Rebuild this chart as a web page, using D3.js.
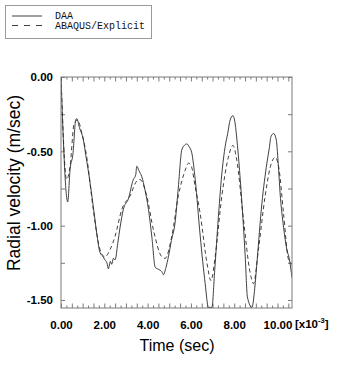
<!DOCTYPE html>
<html>
<head>
<meta charset="utf-8">
<script src="https://cdn.jsdelivr.net/npm/d3@7"></script>
<style>
  body { margin: 0; background: #ffffff; }
  svg { display: block; }
</style>
</head>
<body>
<div class="chart"></div>
<script>
// Time in units of 1e-3 sec, radial velocity in m/sec.
const daaTime = [0, 0.31, 0.42, 0.55, 0.68, 0.73, 0.85, 1.03, 1.15, 1.26, 1.49, 1.65, 1.80, 1.95, 2.03, 2.12, 2.19, 2.28, 2.34, 2.42, 2.50, 2.62, 2.73, 2.88, 3.11, 3.34, 3.45, 3.50, 3.60, 3.73, 3.88, 4.04, 4.20, 4.35, 4.45, 4.58, 4.66, 4.73, 4.85, 4.96, 5.10, 5.27, 5.42, 5.58, 5.70, 5.81, 5.92, 6.04, 6.20, 6.43, 6.66, 6.81, 6.97, 7.10, 7.27, 7.45, 7.58, 7.70, 7.81, 7.94, 8.04, 8.15, 8.28, 8.51, 8.61, 8.82, 8.95, 9.05, 9.28, 9.51, 9.62, 9.70, 9.82, 9.94, 10.05, 10.12, 10.28, 10.43, 10.54, 10.67];
const daaVel = [0, -0.84, -0.62, -0.52, -0.29, -0.28, -0.34, -0.42, -0.53, -0.63, -0.87, -1.05, -1.18, -1.21, -1.23, -1.25, -1.29, -1.24, -1.26, -1.22, -1.23, -1.12, -1.01, -0.89, -0.82, -0.69, -0.66, -0.60, -0.63, -0.67, -0.76, -0.89, -1.08, -1.28, -1.29, -1.30, -1.31, -1.33, -1.28, -1.21, -1.10, -0.98, -0.74, -0.49, -0.46, -0.45, -0.47, -0.51, -0.69, -1.07, -1.39, -1.55, -1.55, -1.30, -0.94, -0.62, -0.47, -0.38, -0.29, -0.26, -0.31, -0.46, -0.69, -1.21, -1.48, -1.55, -1.42, -1.25, -0.85, -0.58, -0.48, -0.40, -0.38, -0.42, -0.62, -0.78, -1.01, -1.16, -1.22, -1.35];

const abaqusTime = [0, 0.26, 0.42, 0.61, 0.77, 0.95, 1.19, 1.49, 1.80, 2.03, 2.27, 2.50, 2.81, 3.19, 3.50, 3.65, 3.96, 4.27, 4.66, 4.81, 5.12, 5.42, 5.73, 5.89, 6.02, 6.20, 6.43, 6.74, 6.93, 7.12, 7.43, 7.73, 7.94, 8.12, 8.43, 8.74, 8.89, 9.12, 9.43, 9.66, 9.89, 10.05, 10.28, 10.51, 10.60, 10.67];
const abaqusVel = [0, -0.69, -0.60, -0.31, -0.29, -0.37, -0.54, -0.89, -1.16, -1.21, -1.16, -1.07, -0.89, -0.80, -0.70, -0.69, -0.80, -1.03, -1.21, -1.22, -1.07, -0.80, -0.63, -0.58, -0.60, -0.74, -0.92, -1.25, -1.37, -1.21, -0.80, -0.54, -0.46, -0.56, -0.96, -1.32, -1.39, -1.16, -0.80, -0.61, -0.54, -0.60, -0.92, -1.23, -1.25, -1.26];

const seriesNames = ["DAA", "ABAQUS/Explicit"];
const xLabelTicks = [0, 2, 4, 6, 8, 10];
const yLabelTicks = [0, -0.5, -1.0, -1.5];

const width = 349, height = 383;
const plotLeft = 61, plotRight = 292, plotTop = 77, plotBottom = 308;
const frameColor = "#7a7a7a";
const lineColor = "#2a2a2a";

const svg = d3.select(".chart")
  .append("svg")
  .attr("width", width)
  .attr("height", height)
  .attr("viewBox", [0, 0, width, height]);

svg.append("rect")
  .attr("width", width)
  .attr("height", height)
  .attr("fill", "#ffffff");

const x = d3.scaleLinear().domain([0, 10.67]).range([plotLeft, plotRight]);
const y = d3.scaleLinear().domain([-1.554, 0]).range([plotBottom, plotTop]);

// Minor and major ticks, all pointing inside the frame.
const minorX = d3.range(0, 10.67, 0.25).filter(v => Math.round(v * 4) % 2 === 1);
const majorX = d3.range(0, 10.67, 0.5);
const yTicks = d3.range(0, -1.56, -0.25);

function styleAxis(g) {
  g.select(".domain").remove();
  g.selectAll(".tick line").attr("stroke", frameColor).attr("stroke-width", 1);
}

svg.append("g")
  .attr("transform", `translate(0,${plotBottom})`)
  .call(d3.axisBottom(x).tickValues(minorX).tickSize(-2.5).tickFormat(""))
  .call(styleAxis);
svg.append("g")
  .attr("transform", `translate(0,${plotBottom})`)
  .call(d3.axisBottom(x).tickValues(majorX).tickSize(-4.5).tickFormat(""))
  .call(styleAxis);
svg.append("g")
  .attr("transform", `translate(0,${plotTop})`)
  .call(d3.axisTop(x).tickValues(minorX).tickSize(-2.5).tickFormat(""))
  .call(styleAxis);
svg.append("g")
  .attr("transform", `translate(0,${plotTop})`)
  .call(d3.axisTop(x).tickValues(majorX).tickSize(-4.5).tickFormat(""))
  .call(styleAxis);
svg.append("g")
  .attr("transform", `translate(${plotLeft},0)`)
  .call(d3.axisLeft(y).tickValues(yTicks).tickSize(-4).tickFormat(""))
  .call(styleAxis);
svg.append("g")
  .attr("transform", `translate(${plotRight},0)`)
  .call(d3.axisRight(y).tickValues(yTicks).tickSize(-4).tickFormat(""))
  .call(styleAxis);

// Tick labels.
const labelFont = "'Liberation Sans', Arial, Helvetica, sans-serif";
const xLabels = svg.append("g")
  .attr("transform", `translate(0,${plotBottom})`)
  .call(d3.axisBottom(x).tickValues(xLabelTicks).tickSize(0).tickPadding(13).tickFormat(d => d.toFixed(2)));
xLabels.select(".domain").remove();
xLabels.selectAll("text")
  .attr("font-family", labelFont)
  .attr("font-size", "11.5px")
  .attr("font-weight", "bold")
  .attr("fill", "#000000");

const yLabels = svg.append("g")
  .attr("transform", `translate(${plotLeft},0)`)
  .call(d3.axisLeft(y).tickValues(yLabelTicks).tickSize(0).tickPadding(8).tickFormat(d => d.toFixed(2)));
yLabels.select(".domain").remove();
yLabels.selectAll("text")
  .attr("font-family", labelFont)
  .attr("font-size", "11.5px")
  .attr("font-weight", "bold")
  .attr("fill", "#000000");

// Exponent note right of the last label.
const expo = svg.append("text")
  .attr("x", 295)
  .attr("y", 328)
  .attr("font-family", labelFont)
  .attr("font-size", "11.5px")
  .attr("font-weight", "bold")
  .attr("fill", "#000000");
expo.append("tspan").text("[x10");
expo.append("tspan").attr("dy", -5).attr("font-size", "7.5px").text("-3");
expo.append("tspan").attr("dy", 5).text("]");

// Axis titles.
svg.append("text")
  .attr("x", (plotLeft + plotRight) / 2 + 0.5)
  .attr("y", 351)
  .attr("text-anchor", "middle")
  .attr("font-family", labelFont)
  .attr("font-size", "16px")
  .attr("fill", "#000000")
  .text("Time (sec)");
svg.append("text")
  .attr("transform", "translate(20,183) rotate(-90)")
  .attr("text-anchor", "middle")
  .attr("font-family", labelFont)
  .attr("font-size", "17.5px")
  .attr("fill", "#000000")
  .text("Radial velocity (m/sec)");

// Curves, clipped to the frame.
svg.append("clipPath")
  .attr("id", "plotClip")
  .append("rect")
  .attr("x", plotLeft).attr("y", plotTop)
  .attr("width", plotRight - plotLeft).attr("height", plotBottom - plotTop);

const line = d3.line()
  .x(d => x(d[0]))
  .y(d => y(d[1]))
  .curve(d3.curveMonotoneX);
const daaPoints = daaTime.map((t, i) => [t, daaVel[i]]);
const abaqusPoints = abaqusTime.map((t, i) => [t, abaqusVel[i]]);

svg.append("path")
  .datum(abaqusPoints)
  .attr("clip-path", "url(#plotClip)")
  .attr("fill", "none")
  .attr("stroke", lineColor)
  .attr("stroke-width", 0.9)
  .attr("stroke-dasharray", "4,3")
  .attr("d", line);
svg.append("path")
  .datum(daaPoints)
  .attr("clip-path", "url(#plotClip)")
  .attr("fill", "none")
  .attr("stroke", lineColor)
  .attr("stroke-width", 0.9)
  .attr("d", line);

// Frame.
svg.append("rect")
  .attr("x", plotLeft).attr("y", plotTop)
  .attr("width", plotRight - plotLeft).attr("height", plotBottom - plotTop)
  .attr("fill", "none")
  .attr("stroke", frameColor)
  .attr("stroke-width", 1);

// Legend box at the top left.
const legend = svg.append("g");
legend.append("rect")
  .attr("x", 5.5).attr("y", 5.5)
  .attr("width", 146).attr("height", 33)
  .attr("fill", "none")
  .attr("stroke", "#9a9a9a")
  .attr("stroke-width", 1);
seriesNames.forEach((name, i) => {
  const ly = 16 + i * 9.5;
  legend.append("line")
    .attr("x1", 12).attr("x2", 42)
    .attr("y1", ly).attr("y2", ly)
    .attr("stroke", lineColor)
    .attr("stroke-width", 0.9)
    .attr("stroke-dasharray", i === 0 ? null : "6,6");
  legend.append("text")
    .attr("x", 55)
    .attr("y", ly + 3.3)
    .attr("font-family", "'Liberation Mono', 'DejaVu Sans Mono', monospace")
    .attr("font-size", "10px")
    .attr("fill", "#111111")
    .text(name);
});
</script>
</body>
</html>
